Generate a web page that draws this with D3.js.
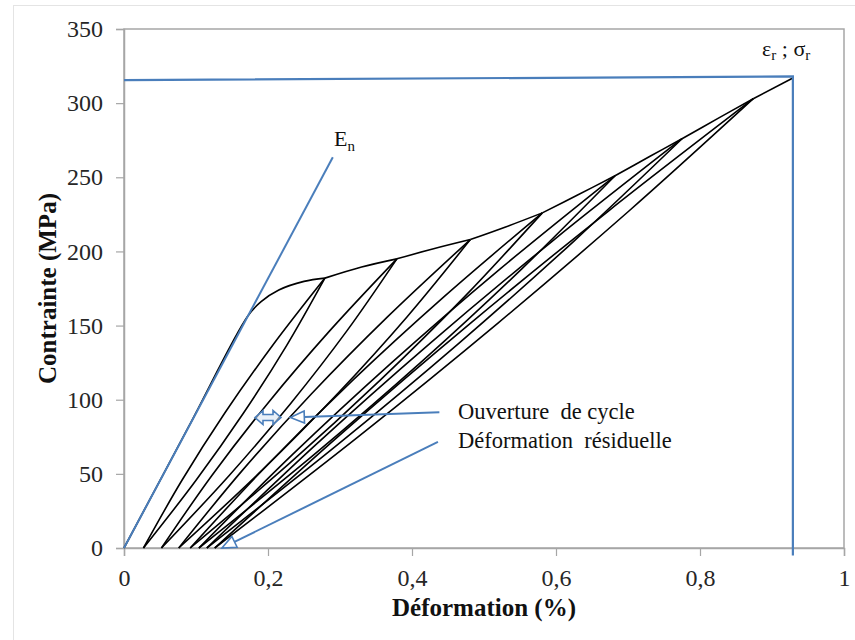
<!DOCTYPE html>
<html>
<head>
<meta charset="utf-8">
<script src="https://cdn.jsdelivr.net/npm/d3@7"></script>
<style>
  body { margin: 0; background: #fff; }
  svg text { font-family: "Liberation Serif", "Times New Roman", serif; }
</style>
</head>
<body>
<script>
"use strict";

// strain (%) / stress (MPa)
const xTicks = [0, 0.2, 0.4, 0.6, 0.8, 1];
const yTicks = [0, 50, 100, 150, 200, 250, 300, 350];

const firstLoading = [[0, 0], [0.09, 82], [0.172, 156.5], [0.19, 166], [0.215, 174], [0.25, 179.8]];
const peakStrain = [0.279, 0.379, 0.481, 0.581, 0.682, 0.775, 0.874];
const peakStress = [182, 195, 208, 226, 251, 276, 303];
const residualStrain = [0.027, 0.052, 0.076, 0.092, 0.104, 0.115, 0.126];
const envelopeMid = [[0.33, 189.5], [0.43, 201.8], [0.53, 216.5], [0.63, 238], [0.73, 264], [0.825, 289.7]];
const failurePoint = [0.929, 317];

// inner points of each unloading branch (top to bottom)
const unloadPoints = [
  [[0.2258, 136.5], [0.166, 91], [0.0998, 45.5]],
  [[0.3093, 146.25], [0.2315, 97.5], [0.1458, 48.75]],
  [[0.3933, 156], [0.2965, 104], [0.1908, 52]],
  [[0.4731, 169.5], [0.3555, 113], [0.2286, 56.5]],
  [[0.5525, 188.25], [0.413, 125.5], [0.2635, 62.75]],
  [[0.625, 207], [0.465, 138], [0.295, 69]],
  [[0.7013, 227.25], [0.519, 151.5], [0.3273, 75.75]]
];
// inner points of each reloading branch (bottom to top)
const reloadPoints = [
  [[0.0803, 45.5], [0.14, 91], [0.2063, 136.5]],
  [[0.1218, 48.75], [0.1995, 97.5], [0.2853, 146.25]],
  [[0.1638, 52], [0.2605, 104], [0.3663, 156]],
  [[0.2001, 56.5], [0.3175, 113], [0.4446, 169.5]],
  [[0.2335, 62.75], [0.373, 125.5], [0.5225, 188.25]],
  [[0.265, 69], [0.425, 138], [0.595, 207]],
  [[0.2988, 75.75], [0.481, 151.5], [0.6728, 227.25]]
];

// annotation lines
const modulusLine = [[0, 0], [0.29, 263.5]];
const ruptureLines = [[0, 315.5], [0.929, 318], [0.929, -5]];
const openingArrow = [[0.438, 91.5], [0.231, 88]];
const openingMark = [0.2, 88];
const residualArrow = [[0.436, 71.5], [0.136, 0]];

const measurements = { width: 855, height: 640, left: 124, right: 844, top: 29, bottom: 548 };
const blue = "#4a7ebb";
const grey = "#a6a6a6";

let svgContainer = "";

window.addEventListener("load", init);

function init() {
  svgContainer = d3.select("body").append("svg")
    .attr("width", measurements.width)
    .attr("height", measurements.height);

  // faint outer frame of the chart
  svgContainer.append("rect")
    .attr("x", 13.5).attr("y", 5.5)
    .attr("width", 860).attr("height", 660)
    .attr("fill", "none").attr("stroke", "#e4e4e4");

  let scaleX = d3.scaleLinear().domain([0, 1]).range([measurements.left, measurements.right]);
  let scaleY = d3.scaleLinear().domain([0, 350]).range([measurements.bottom, measurements.top]);

  drawAxes(scaleX, scaleY);
  plotData(scaleX, scaleY);
  drawAnnotations(scaleX, scaleY);
}

function drawAxes(scaleX, scaleY) {
  // plot area border
  svgContainer.append("rect")
    .attr("x", measurements.left).attr("y", measurements.top)
    .attr("width", measurements.right - measurements.left)
    .attr("height", measurements.bottom - measurements.top)
    .attr("fill", "none").attr("stroke", grey).attr("stroke-width", 1.5);

  let xAxis = d3.axisBottom(scaleX)
    .tickValues(xTicks)
    .tickSize(8)
    .tickPadding(13)
    .tickFormat(d => String(d).replace(".", ","));
  let yAxis = d3.axisLeft(scaleY)
    .tickValues(yTicks)
    .tickSize(8)
    .tickPadding(13);

  let gx = svgContainer.append("g")
    .attr("transform", "translate(0," + measurements.bottom + ")")
    .call(xAxis);
  let gy = svgContainer.append("g")
    .attr("transform", "translate(" + measurements.left + ",0)")
    .call(yAxis);

  [gx, gy].forEach(g => {
    g.selectAll("path.domain").attr("stroke", grey).attr("stroke-width", 1.5);
    g.selectAll(".tick line").attr("stroke", grey).attr("stroke-width", 1.2);
    g.selectAll(".tick text")
      .attr("fill", "#262626")
      .style("font-family", "Liberation Serif")
      .style("font-size", "24px");
  });

  svgContainer.append("text")
    .attr("x", (measurements.left + measurements.right) / 2)
    .attr("y", 616)
    .attr("text-anchor", "middle")
    .attr("font-weight", "bold")
    .attr("font-size", 25)
    .attr("fill", "#111")
    .text("Déformation (%)");

  svgContainer.append("text")
    .attr("transform", "translate(56," + ((measurements.top + measurements.bottom) / 2) + ") rotate(-90)")
    .attr("text-anchor", "middle")
    .attr("font-weight", "bold")
    .attr("font-size", 25)
    .attr("fill", "#111")
    .text("Contrainte (MPa)");
}

function plotData(scaleX, scaleY) {
  const line = d3.line()
    .x(d => scaleX(d[0]))
    .y(d => scaleY(d[1]))
    .curve(d3.curveCatmullRom.alpha(0.5));

  // build every branch of the loading history
  let branches = [];
  branches.push(firstLoading.concat([[peakStrain[0], peakStress[0]]]));
  for (let i = 0; i < peakStrain.length; i++) {
    let peak = [peakStrain[i], peakStress[i]];
    let foot = [residualStrain[i], 0];
    branches.push([peak].concat(unloadPoints[i], [foot]));
    branches.push([foot].concat(reloadPoints[i], [peak]));
    if (i < peakStrain.length - 1) {
      branches.push([peak, envelopeMid[i], [peakStrain[i + 1], peakStress[i + 1]]]);
    } else {
      branches.push([peak, failurePoint]);
    }
  }

  svgContainer.append("g")
    .selectAll("path")
    .data(branches)
    .enter()
    .append("path")
      .attr("d", line)
      .attr("fill", "none")
      .attr("stroke", "#000")
      .attr("stroke-width", 1.6)
      .attr("stroke-linejoin", "miter");
}

function hollowHead(tip, from, len, half) {
  // outline arrowhead polygon, tip pointing away from "from"
  let dx = tip[0] - from[0], dy = tip[1] - from[1];
  let n = Math.sqrt(dx * dx + dy * dy);
  let ux = dx / n, uy = dy / n;
  let bx = tip[0] - ux * len, by = tip[1] - uy * len;
  return [[tip[0], tip[1]], [bx - uy * half, by + ux * half], [bx + uy * half, by - ux * half]];
}

function drawAnnotations(scaleX, scaleY) {
  const straight = d3.line().x(d => scaleX(d[0])).y(d => scaleY(d[1]));
  const px = d => [scaleX(d[0]), scaleY(d[1])];

  svgContainer.append("path")
    .attr("d", straight(modulusLine))
    .attr("fill", "none").attr("stroke", blue).attr("stroke-width", 2);

  svgContainer.append("path")
    .attr("d", straight(ruptureLines))
    .attr("fill", "none").attr("stroke", blue).attr("stroke-width", 2.2);

  // arrows
  [openingArrow, residualArrow].forEach(a => {
    let start = px(a[0]), tip = px(a[1]);
    let head = hollowHead(tip, start, 14, 6);
    let base = [(head[1][0] + head[2][0]) / 2, (head[1][1] + head[2][1]) / 2];
    svgContainer.append("line")
      .attr("x1", start[0]).attr("y1", start[1])
      .attr("x2", base[0]).attr("y2", base[1])
      .attr("stroke", blue).attr("stroke-width", 2);
    svgContainer.append("polygon")
      .attr("points", head.map(p => p.join(",")).join(" "))
      .attr("fill", "#fff").attr("stroke", blue).attr("stroke-width", 1.6);
  });

  // small double arrow marking the opening of the loop
  let c = px(openingMark);
  let shape = [[-13, 0], [-5, -7], [-5, -3], [5, -3], [5, -7], [13, 0], [5, 7], [5, 3], [-5, 3], [-5, 7]];
  svgContainer.append("polygon")
    .attr("points", shape.map(p => (c[0] + p[0]) + "," + (c[1] + p[1])).join(" "))
    .attr("fill", "#dbe6f4").attr("fill-opacity", 0.6)
    .attr("stroke", blue).attr("stroke-width", 1.6);

  // labels
  let en = svgContainer.append("text")
    .attr("x", 334).attr("y", 146)
    .attr("font-size", 22).attr("fill", "#111");
  en.append("tspan").text("E");
  en.append("tspan").attr("font-size", 15).attr("dy", 5).text("n");

  let rupt = svgContainer.append("text")
    .attr("x", 762).attr("y", 56)
    .attr("font-size", 22).attr("fill", "#111");
  rupt.append("tspan").text("ε");
  rupt.append("tspan").attr("font-size", 15).attr("dy", 4).text("r");
  rupt.append("tspan").attr("dy", -4).style("white-space", "pre").text(" ; ");
  rupt.append("tspan").text("σ");
  rupt.append("tspan").attr("font-size", 15).attr("dy", 4).text("r");

  svgContainer.append("text")
    .attr("x", 458).attr("y", 419)
    .attr("font-size", 22.5).attr("fill", "#111")
    .style("white-space", "pre")
    .text("Ouverture  de cycle");

  svgContainer.append("text")
    .attr("x", 458).attr("y", 448)
    .attr("font-size", 22.5).attr("fill", "#111")
    .style("white-space", "pre")
    .text("Déformation  résiduelle");
}
</script>
</body>
</html>
